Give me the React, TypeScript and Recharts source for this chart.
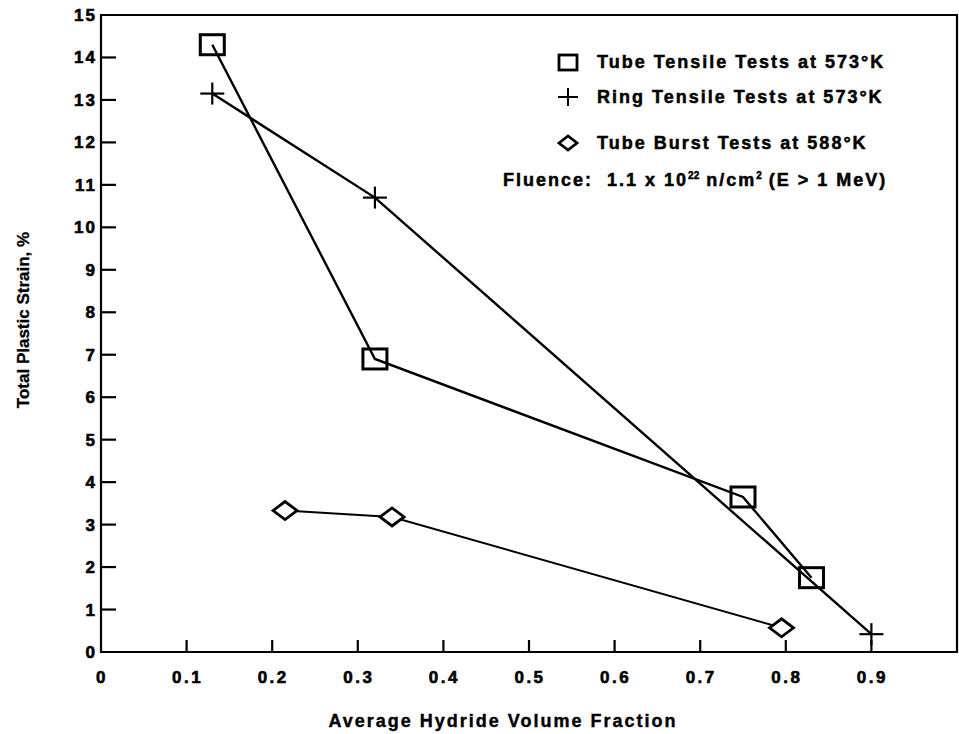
import React from 'react';
import { ScatterChart, Scatter, XAxis, YAxis, ReferenceArea, Legend } from 'recharts';

const tubeTensileX = [0.13, 0.32, 0.75, 0.83];
const tubeTensileY = [14.3, 6.9, 3.65, 1.75];
const ringTensileX = [0.13, 0.32, 0.9];
const ringTensileY = [13.15, 10.7, 0.42];
const tubeBurstX = [0.215, 0.34, 0.795];
const tubeBurstY = [3.33, 3.18, 0.57];

const xTicks = [0, 0.1, 0.2, 0.3, 0.4, 0.5, 0.6, 0.7, 0.8, 0.9];
const yTicks = [0, 1, 2, 3, 4, 5, 6, 7, 8, 9, 10, 11, 12, 13, 14, 15];

const legendLabels = [
  'Tube Tensile Tests at 573°K',
  'Ring Tensile Tests at 573°K',
  'Tube Burst Tests at 588°K',
];

const toPoints = (xs: number[], ys: number[]) => xs.map((x, i) => ({ x, y: ys[i] }));
const tubeTensile = toPoints(tubeTensileX, tubeTensileY);
const ringTensile = toPoints(ringTensileX, ringTensileY);
const tubeBurst = toPoints(tubeBurstX, tubeBurstY);

const FONT = '"Liberation Sans", Arial, Helvetica, sans-serif';

const SquareShape = (p: any) => (
  <rect x={p.cx - 12} y={p.cy - 10} width={24} height={20} fill="none" stroke="#000" strokeWidth={3} />
);
const PlusShape = (p: any) => (
  <g stroke="#000" strokeWidth={2.2}>
    <line x1={p.cx - 12} y1={p.cy} x2={p.cx + 12} y2={p.cy} />
    <line x1={p.cx} y1={p.cy - 11} x2={p.cx} y2={p.cy + 11} />
  </g>
);
const DiamondShape = (p: any) => (
  <polygon
    points={`${p.cx - 12},${p.cy} ${p.cx},${p.cy - 9} ${p.cx + 12},${p.cy} ${p.cx},${p.cy + 9}`}
    fill="#fff"
    stroke="#000"
    strokeWidth={2.8}
  />
);

const YTick = (props: any) => {
  const { x, y, payload } = props;
  const v = payload.value;
  return (
    <g>
      {v > 0 && v < 15 && <line x1={x} y1={y} x2={x + 15} y2={y} stroke="#000" strokeWidth={2.2} />}
      <text x={x - 4} y={y + 6} textAnchor="end" fontFamily={FONT} fontWeight="bold" fontSize={17} letterSpacing={2} stroke="#000" strokeWidth={0.6} fill="#000">
        {v}
      </text>
    </g>
  );
};

const XTick = (props: any) => {
  const { x, y, payload } = props;
  const v = payload.value;
  return (
    <g>
      {v > 0 && <line x1={x} y1={y} x2={x} y2={y - 12} stroke="#000" strokeWidth={2.2} />}
      <text x={x + 1} y={y + 31} textAnchor="middle" fontFamily={FONT} fontWeight="bold" fontSize={17} letterSpacing={2.5} stroke="#000" strokeWidth={0.6} fill="#000">
        {v}
      </text>
    </g>
  );
};

const YTitle = () => (
  <text x={29} y={320} transform="rotate(-90 29 320)" textAnchor="middle" fontFamily={FONT} fontWeight="bold" fontSize={17} stroke="#000" strokeWidth={0.3} fill="#000">
    Total Plastic Strain, %
  </text>
);

const XTitle = () => (
  <text x={503} y={727} textAnchor="middle" fontFamily={FONT} fontWeight="bold" fontSize={18} letterSpacing={2} stroke="#000" strokeWidth={0.4} fill="#000">
    Average Hydride Volume Fraction
  </text>
);

const iconFor = (i: number) => {
  if (i === 0)
    return <rect x={2} y={3} width={18} height={15} fill="none" stroke="#000" strokeWidth={2.8} />;
  if (i === 1)
    return (
      <g stroke="#000" strokeWidth={2}>
        <line x1={1} y1={10} x2={21} y2={10} />
        <line x1={11} y1={1} x2={11} y2={19} />
      </g>
    );
  return <polygon points="2,10 11,3 20,10 11,17" fill="none" stroke="#000" strokeWidth={2.8} />;
};

const LegendContent = () => {
  const rowsY = [62, 97, 143];
  const textStyle: React.CSSProperties = {
    fontFamily: FONT,
    fontWeight: 'bold',
    fontSize: 18,
    letterSpacing: 2,
    color: '#000',
    whiteSpace: 'nowrap',
    lineHeight: '20px',
    WebkitTextStroke: '0.5px #000',
  };
  const supStyle: React.CSSProperties = { fontSize: 10, letterSpacing: 0, verticalAlign: 'top', lineHeight: '12px' };
  return (
    <div style={{ position: 'relative', width: 0, height: 0 }}>
      {legendLabels.map((lab, i) => (
        <div key={lab} style={{ position: 'absolute', left: 557, top: rowsY[i] - 10, display: 'flex', alignItems: 'center', height: 20 }}>
          <svg width={22} height={20} style={{ display: 'block' }}>{iconFor(i)}</svg>
          <span style={{ ...textStyle, marginLeft: 18 }}>{lab}</span>
        </div>
      ))}
      <div style={{ position: 'absolute', left: 503, top: 170, height: 20, ...textStyle }}>
        Fluence:&nbsp; 1.1 x 10<sup style={supStyle}>22</sup> n/cm<sup style={supStyle}>2</sup> (E &gt; 1 MeV)
      </div>
    </div>
  );
};

export default function App() {
  return (
    <div style={{ position: 'absolute', left: 0, top: 0, background: '#fff' }}>
      <ScatterChart width={959} height={734} margin={{ top: 15, right: 2, bottom: 0, left: 0 }}>
        <XAxis
          type="number"
          dataKey="x"
          domain={[0, 1]}
          ticks={xTicks}
          interval={0}
          height={82}
          tickSize={0}
          tickMargin={0}
          axisLine={false}
          tickLine={false}
          tick={<XTick />}
          label={<XTitle />}
        />
        <YAxis
          type="number"
          dataKey="y"
          domain={[0, 15]}
          ticks={yTicks}
          interval={0}
          width={101}
          tickSize={0}
          tickMargin={0}
          axisLine={false}
          tickLine={false}
          tick={<YTick />}
          label={<YTitle />}
        />
        <ReferenceArea x1={0} x2={1} y1={0} y2={15} fill="none" fillOpacity={0} stroke="#000" strokeWidth={2.2} />
        <Legend content={<LegendContent />} wrapperStyle={{ position: 'absolute', left: 0, top: 0, width: 0, height: 0 }} />
        <Scatter name="Tube Tensile" data={tubeTensile} line={{ stroke: '#000', strokeWidth: 2.4 }} shape={SquareShape} isAnimationActive={false} />
        <Scatter name="Ring Tensile" data={ringTensile} line={{ stroke: '#000', strokeWidth: 2.4 }} shape={PlusShape} isAnimationActive={false} />
        <Scatter name="Tube Burst" data={tubeBurst} line={{ stroke: '#000', strokeWidth: 2 }} shape={DiamondShape} isAnimationActive={false} />
      </ScatterChart>
    </div>
  );
}
